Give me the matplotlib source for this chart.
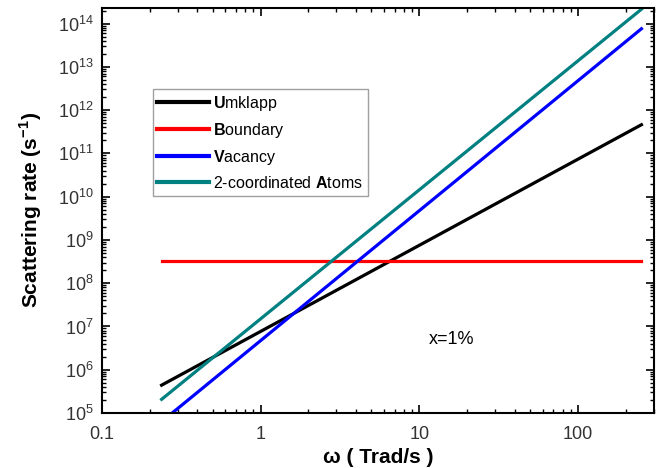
import matplotlib
matplotlib.use('Agg')
import matplotlib.pyplot as plt
from matplotlib.ticker import LogLocator, NullFormatter

plt.rcParams['font.family'] = ['Liberation Sans', 'DejaVu Sans']
plt.rcParams['mathtext.fontset'] = 'custom'
plt.rcParams['mathtext.rm'] = 'Liberation Sans'
plt.rcParams['mathtext.bf'] = 'Liberation Sans:bold'

# frequency range of the curves (Trad/s)
omega = [0.238, 251]

# scattering rates (1/s) at the two ends of omega
umklapp = [4.4e5, 4.6e11]
boundary = [3.3e8, 3.3e8]
vacancy = [6.3e4, 7.6e13]
atoms_2c = [2.07e5, 2.15e14]

labels = [r'$\mathbf{U}$mklapp', r'$\mathbf{B}$oundary',
          r'$\mathbf{V}$acancy', r'2-coordinated $\mathbf{A}$toms']
colors = ['black', '#ff0000', '#0000ff', '#008080']

fig = plt.figure(figsize=(6.57, 4.68), dpi=100)
ax = fig.add_axes([0.155, 0.1175, 0.84, 0.8655])

for vals, lab, c in zip([umklapp, boundary, vacancy, atoms_2c], labels, colors):
    ax.plot(omega, vals, color=c, lw=2.3, label=lab)

ax.set_xscale('log')
ax.set_yscale('log')
ax.set_xlim(0.1, 300)
ax.set_ylim(1e5, 2.3e14)

ax.set_xticks([0.1, 1, 10, 100])
ax.set_xticklabels(['0.1', '1', '10', '100'])
ax.xaxis.set_minor_locator(LogLocator(base=10, subs=range(2, 10)))
ax.xaxis.set_minor_formatter(NullFormatter())
ax.yaxis.set_major_locator(LogLocator(base=10, numticks=20))
ax.yaxis.set_minor_locator(LogLocator(base=10, subs=range(2, 10), numticks=20))
ax.yaxis.set_minor_formatter(NullFormatter())

ax.tick_params(which='both', direction='in', top=True, right=True, labelsize=13,
               colors='black', labelcolor='#333333')
ax.tick_params(which='major', length=6, width=1.2)
ax.tick_params(which='minor', length=3, width=1.0)
ax.tick_params(axis='x', pad=9)
ax.tick_params(axis='y', pad=6)
for s in ax.spines.values():
    s.set_linewidth(1.5)

ax.set_xlabel('ω ( Trad/s )', fontsize=15, fontweight='bold', labelpad=4)
ax.set_ylabel(r'Scattering rate (s$^{\mathbf{-1}}$)', fontsize=15, fontweight='bold', labelpad=10)

ax.text(16, 4.9e6, 'x=1%', fontsize=13, ha='center', va='center')

leg = ax.legend(loc='upper left', bbox_to_anchor=(0.092, 0.80), borderaxespad=0,
                fontsize=11.5, frameon=True, fancybox=False, handlelength=3.2,
                handletextpad=0.3, labelspacing=0.5, borderpad=0.3)
leg.get_frame().set_edgecolor('#888888')
leg.get_frame().set_linewidth(1.0)
for line in leg.get_lines():
    line.set_linewidth(3)

fig.savefig('out.png', dpi=100)
